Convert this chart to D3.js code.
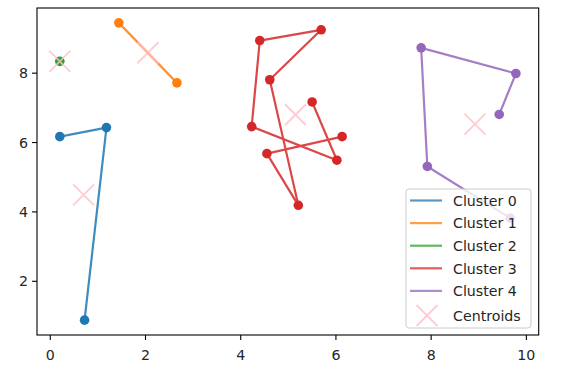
<!DOCTYPE html>
<html>
<head>
<meta charset="utf-8">
<script src="https://cdn.jsdelivr.net/npm/d3@7"></script>
<style>
  html, body { margin: 0; padding: 0; background: #fff; }
  svg { display: block; }
  text { font-family: "DejaVu Sans", sans-serif; }
</style>
</head>
<body>
<svg id="chart" width="566" height="374"></svg>
<script>
// ---- data ----
const clusterNames = ["Cluster 0", "Cluster 1", "Cluster 2", "Cluster 3", "Cluster 4"];
const clusterColors = ["#1f77b4", "#ff7f0e", "#2ca02c", "#d62728", "#9467bd"];
const cluster0X = [0.20, 1.18, 0.72];
const cluster0Y = [6.17, 6.43, 0.88];
const cluster1X = [1.44, 2.66];
const cluster1Y = [9.45, 7.72];
const cluster2X = [0.20];
const cluster2Y = [8.34];
const cluster3X = [5.50, 6.02, 4.23, 4.40, 5.69, 4.61, 5.21, 4.55, 6.13];
const cluster3Y = [7.17, 5.49, 6.46, 8.94, 9.25, 7.81, 4.19, 5.68, 6.17];
const cluster4X = [9.43, 9.78, 7.79, 7.92, 9.66];
const cluster4Y = [6.81, 7.99, 8.73, 5.31, 3.82];
const centroidX = [0.70, 2.05, 0.20, 5.15, 8.92];
const centroidY = [4.49, 8.59, 8.34, 6.80, 6.53];
const xTicks = [0, 2, 4, 6, 8, 10];
const yTicks = [2, 4, 6, 8];

const clustersX = [cluster0X, cluster1X, cluster2X, cluster3X, cluster4X];
const clustersY = [cluster0Y, cluster1Y, cluster2Y, cluster3Y, cluster4Y];
const clusters = clustersX.map((xs, i) => xs.map((x, j) => [x, clustersY[i][j]]));

// ---- layout ----
const L = 37, R = 538.7, T = 8, B = 335;
const allX = clustersX.flat().concat(centroidX);
const allY = clustersY.flat().concat(centroidY);
function padded(arr) {
  const mn = d3.min(arr), mx = d3.max(arr), m = (mx - mn) * 0.05;
  return [mn - m, mx + m];
}
const x = d3.scaleLinear().domain(padded(allX)).range([L, R]);
const y = d3.scaleLinear().domain(padded(allY)).range([B, T]);

const svg = d3.select("#chart");
const fs = 14.2;

svg.append("defs").append("clipPath").attr("id", "clip")
  .append("rect").attr("x", L).attr("y", T).attr("width", R - L).attr("height", B - T);

const plot = svg.append("g").attr("clip-path", "url(#clip)");
const line = d3.line().x(d => x(d[0])).y(d => y(d[1]));

clusters.forEach((pts, i) => {
  plot.append("path").datum(pts)
    .attr("d", line).attr("fill", "none")
    .attr("stroke", clusterColors[i]).attr("stroke-width", 2.2)
    .attr("stroke-opacity", 0.85).attr("stroke-linejoin", "round");
  plot.selectAll(null).data(pts).enter().append("circle")
    .attr("cx", d => x(d[0])).attr("cy", d => y(d[1])).attr("r", 4.8)
    .attr("fill", clusterColors[i]);
});

// centroids
function drawX(g, cx, cy, s) {
  g.append("path")
    .attr("d", `M${cx - s},${cy - s}L${cx + s},${cy + s}M${cx - s},${cy + s}L${cx + s},${cy - s}`)
    .attr("stroke", "#ffc0cb").attr("stroke-width", 2).attr("stroke-opacity", 0.8)
    .attr("fill", "none");
}
centroidX.forEach((cx, i) => drawX(plot, x(cx), y(centroidY[i]), 10.5));

// axes
const axG = svg.append("g");
axG.append("rect").attr("x", L).attr("y", T).attr("width", R - L).attr("height", B - T)
  .attr("fill", "none").attr("stroke", "#000").attr("stroke-width", 1.1);

xTicks.forEach(t => {
  const px = x(t);
  axG.append("line").attr("x1", px).attr("x2", px).attr("y1", B).attr("y2", B + 5)
    .attr("stroke", "#000").attr("stroke-width", 1.1);
  axG.append("text").attr("x", px).attr("y", B + 25).attr("text-anchor", "middle")
    .attr("font-size", fs).attr("fill", "#262626").text(t);
});
yTicks.forEach(t => {
  const py = y(t);
  axG.append("line").attr("x1", L - 5).attr("x2", L).attr("y1", py).attr("y2", py)
    .attr("stroke", "#000").attr("stroke-width", 1.1);
  axG.append("text").attr("x", L - 9).attr("y", py + 5).attr("text-anchor", "end")
    .attr("font-size", fs).attr("fill", "#262626").text(t);
});

// legend
const lg = svg.append("g");
const lx = 406, ly = 189, lw = 125, lh = 139;
lg.append("rect").attr("x", lx).attr("y", ly).attr("width", lw).attr("height", lh)
  .attr("rx", 3).attr("fill", "#fff").attr("fill-opacity", 0.8)
  .attr("stroke", "#cccccc").attr("stroke-width", 1);
const rowY = i => 200.5 + i * 22.6;
clusterNames.forEach((name, i) => {
  const ry = rowY(i);
  lg.append("line").attr("x1", 410).attr("x2", 442).attr("y1", ry).attr("y2", ry)
    .attr("stroke", clusterColors[i]).attr("stroke-width", 2.2).attr("stroke-opacity", 0.75);
  lg.append("text").attr("x", 453).attr("y", ry + 5.2).attr("font-size", fs)
    .attr("fill", "#262626").text(name);
});
const cry = rowY(5) + 2;
drawX(lg, 427, cry, 10.5);
lg.append("text").attr("x", 453).attr("y", cry + 5.2).attr("font-size", fs)
  .attr("fill", "#262626").text("Centroids");
</script>
</body>
</html>
